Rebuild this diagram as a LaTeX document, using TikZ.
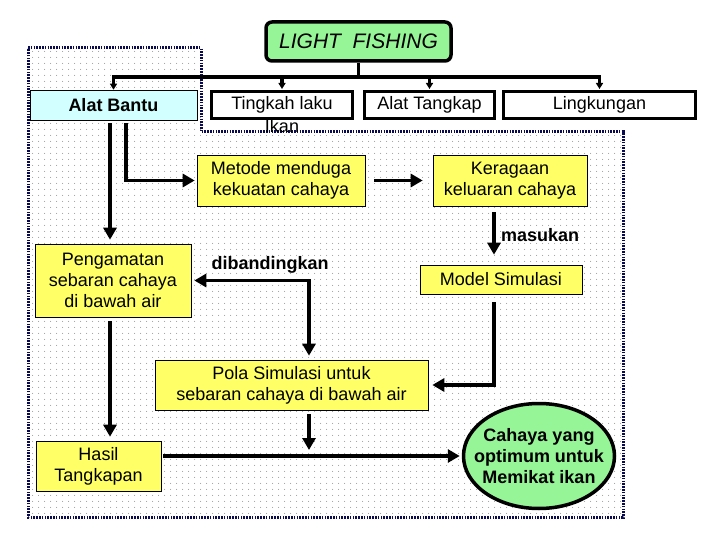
\documentclass[tikz,border=0pt]{standalone}
\usepackage{fontspec}
\setmainfont{Liberation Sans}
\usetikzlibrary{positioning,arrows.meta,shapes.geometric,patterns.meta}

\definecolor{lfgreen}{RGB}{150,245,150}
\definecolor{boxyellow}{RGB}{255,255,102}
\definecolor{bantucyan}{RGB}{210,255,255}
\definecolor{edgenavy}{RGB}{10,10,80}

\tikzdeclarepattern{
  name=fielddots,
  type=uncolored,
  bottom left={(0pt,0pt)},
  top right={(6pt,6pt)},
  tile size={(6pt,6pt)},
  code={\fill (3pt,3pt) circle (0.6pt);}
}

\begin{document}
\begin{tikzpicture}[
  x=1pt, y=-1pt,
  font=\fontsize{18}{21}\selectfont,
  region/.style={draw=edgenavy, line width=3pt, dash pattern=on 1.6pt off 1.2pt,
                 pattern=fielddots, pattern color=gray!75},
  topbox/.style={draw, line width=3pt, fill=white, inner sep=0pt,
                 minimum height=27pt, minimum width=#1},
  yelbox/.style={draw, line width=0.6pt, fill=boxyellow, inner sep=0pt, align=center},
  lbl/.style={font=\fontsize{18}{21}\selectfont\bfseries},
  flow/.style={-{Triangle[length=12pt,width=13pt]}, line width=3.5pt},
  twoway/.style={{Triangle[length=12pt,width=13pt]}-{Triangle[length=12pt,width=13pt]}, line width=3.5pt},
  branch/.style={-{Triangle[length=6pt,width=7pt]}, line width=3.5pt},
]
\useasboundingbox (0,0) rectangle (720,540);

%====================== BACKGROUND REGION ======================
\draw[region] (28,48) -- (201,48) -- (201,132) -- (623,132) -- (623,517) -- (28,517) -- cycle;

%====================== TOP ROW ======================
\node[draw, line width=3.5pt, rounded corners=6pt, fill=lfgreen, minimum width=185pt,
      minimum height=39pt, inner sep=0pt, font=\fontsize{21}{24}\selectfont\itshape] (light) at (358.5,41.5) {LIGHT~~FISHING};
\node[draw, line width=0.6pt, fill=bantucyan, minimum width=167pt, minimum height=30pt,
      inner sep=0pt, lbl] (bantu) at (113.5,105) {Alat Bantu};
\node[topbox=141pt] (tingkah) at (282,105) {Tingkah laku};
\node[anchor=base] (ikan) at (282,133) {Ikan};
\node[topbox=130pt] (tangkap) at (429.5,105) {Alat Tangkap};
\node[topbox=192pt] (lingk) at (599.5,105) {Lingkungan};

\coordinate (bar) at (0,77);
\coordinate (ax) at (110,0);
\coordinate (dx) at (309,0);
\coordinate (mx) at (494,0);

\draw[line width=3.5pt] (light.south) -- (light.south |- bar);
\draw[line width=3.5pt, line cap=rect] (bantu.north |- bar) -- (lingk.north |- bar);
\draw[branch] (bantu.north |- bar) -- (bantu.north);
\draw[branch] (tingkah.north |- bar) -- ([yshift=1pt]tingkah.north);
\draw[branch] (tangkap.north |- bar) -- ([yshift=1pt]tangkap.north);
\draw[branch] (lingk.north |- bar) -- ([yshift=1pt]lingk.north);

%====================== MIDDLE ======================
\node[yelbox, minimum width=168pt, minimum height=51pt] (metode) at (281,180.5) {Metode menduga\\kekuatan cahaya};
\node[yelbox, minimum width=154pt, minimum height=51pt] (keragaan) at (510,180.5) {Keragaan\\keluaran cahaya};
\node[yelbox, minimum width=162pt, minimum height=29pt] (model) at (501,279.5) {Model Simulasi};
\node[yelbox, minimum width=156pt, minimum height=73pt] (peng) at (113,280.5) {Pengamatan\\sebaran cahaya\\di bawah air};
\node[lbl] (banding) at (270,265) {dibandingkan};
\node[yelbox, minimum width=273pt, minimum height=50pt] (pola) at (291.5,385) {Pola Simulasi untuk\\sebaran cahaya di bawah air};

\draw[flow, shorten <=3pt, shorten >=4pt] (bantu.south -| ax) -- (peng.north -| ax);
\draw[flow, shorten >=2pt] ([xshift=12.5pt, yshift=-3pt]bantu.south) |- (metode.west);
\draw[flow, shorten <=9pt, shorten >=10pt] (metode) -- (keragaan);
\draw[flow, shorten <=6pt, shorten >=10pt] (keragaan.south -| mx) -- node[right=2pt, lbl] (masuk) {masukan} (model.north -| mx);
\draw[flow, shorten <=8pt, shorten >=4pt] (model.south -| mx) |- (pola.east);
\draw[twoway, shorten <=3pt, shorten >=4pt] (peng.east) -| (pola.north -| dx);

%====================== BOTTOM ======================
\node[yelbox, minimum width=125pt, minimum height=50pt] (hasil) at (98.5,466) {Hasil\\Tangkapan};
\node[ellipse, draw, line width=3.5pt, fill=lfgreen, minimum width=151pt, minimum height=105pt,
      inner xsep=-14pt, inner ysep=0pt, align=center, font=\fontsize{18}{21}\selectfont\bfseries] (cahaya) at (539,456) {Cahaya yang\\optimum untuk\\Memikat ikan};

\draw[flow, shorten <=4pt, shorten >=4pt] (peng.south -| ax) -- (hasil.north -| ax);
\draw[flow, shorten <=2pt, shorten >=2pt] (hasil.east |- cahaya.west) -- (cahaya.west);
\draw[flow, shorten <=4pt, shorten >=6pt] (pola.south -| dx) -- (dx |- cahaya.west);
\end{tikzpicture}
\end{document}
